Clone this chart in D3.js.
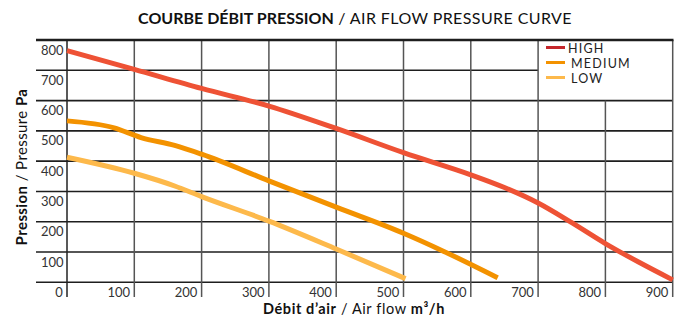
<!DOCTYPE html>
<html lang="fr">
<head>
<meta charset="UTF-8">
<script src="https://d3js.org/d3.v7.min.js"></script>
<style>
  body { margin: 0; background: #fff; }
  svg { font-family: Lato, "DejaVu Sans", sans-serif; }
  .tick { font-size: 13px; fill: #333; }
</style>
</head>
<body>
<svg width="687" height="317"></svg>
<script>
// axis ticks
var xTicks = [0, 100, 200, 300, 400, 500, 600, 700, 800, 900];
var yTicks = [0, 100, 200, 300, 400, 500, 600, 700, 800];

// curves: [air flow m3/h, pressure Pa]
var seriesNames = ["HIGH", "MEDIUM", "LOW"];
var highCurve = [[0, 765], [100, 703], [200, 640], [300, 582], [400, 508], [500, 428],
                 [600, 355], [650, 313], [700, 262], [750, 197], [800, 128], [850, 66], [900, 8]];
var mediumCurve = [[0, 533], [70, 510], [110, 478], [160, 452], [200, 423], [300, 335],
                   [400, 248], [500, 162], [560, 102], [640, 15]];
var lowCurve = [[0, 413], [100, 360], [160, 318], [200, 283], [300, 202], [400, 110], [503, 12]];

var lineColors = ["#ee5235", "#f39200", "#fdb94b"];
var legendColors = ["#c4262b", "#f39200", "#fdb94b"];

var svg = d3.select("svg");

var x = d3.scaleLinear().domain([0, 900]).range([67, 672.7]);
var y = d3.scaleLinear().domain([0, 800]).range([282.3, 40]);

// title
var title = svg.append("text")
    .attr("x", 355).attr("y", 24)
    .attr("text-anchor", "middle")
    .style("font-size", "16px").style("fill", "#111");
title.append("tspan").style("font-weight", "bold").text("COURBE DÉBIT PRESSION");
title.append("tspan").style("letter-spacing", "0.4px").text(" / AIR FLOW PRESSURE CURVE");

// horizontal grid (legend box at top-right has no inner lines)
var grid = svg.append("g");
grid.selectAll("line.h")
    .data(yTicks.filter(d => d != 800))
    .enter().append("line")
    .attr("class", "h")
    .attr("x1", 36)
    .attr("x2", d => d == 700 ? x(700) : x(900))
    .attr("y1", d => y(d)).attr("y2", d => y(d))
    .attr("stroke", "#1e1e1e").attr("stroke-width", 1.6);

// vertical grid
grid.selectAll("line.v")
    .data(xTicks)
    .enter().append("line")
    .attr("class", "v")
    .attr("x1", d => x(d)).attr("x2", d => x(d))
    .attr("y1", d => d == 800 ? y(600) : y(800))
    .attr("y2", 297)
    .attr("stroke", d => (d == 0 ? "#222" : "#555"))
    .attr("stroke-width", 1.5);

// top border
grid.append("line")
    .attr("x1", 36).attr("x2", x(900) + 0.8)
    .attr("y1", y(800)).attr("y2", y(800))
    .attr("stroke", "#1e1e1e").attr("stroke-width", 2.4);

// tick labels sit in the cells, below-left of each line
// (the 0 of the y axis is shared with the x axis one)
svg.selectAll("text.ylab")
    .data(yTicks.filter(d => d > 0))
    .enter().append("text")
    .attr("class", "tick ylab")
    .attr("x", 63.5)
    .attr("y", d => y(d) + 14.5)
    .attr("text-anchor", "end")
    .text(d => d);

svg.selectAll("text.xlab")
    .data(xTicks)
    .enter().append("text")
    .attr("class", "tick xlab")
    .attr("x", d => x(d) - 4.3)
    .attr("y", 296.5)
    .attr("text-anchor", "end")
    .text(d => d);

// axis titles
var xt = svg.append("text")
    .attr("x", 354).attr("y", 314)
    .attr("text-anchor", "middle")
    .style("font-size", "14.5px").style("letter-spacing", "0.6px").style("fill", "#111");
xt.append("tspan").style("font-weight", "bold").text("Débit d’air");
xt.append("tspan").text(" / Air flow ");
xt.append("tspan").style("font-weight", "bold").text("m³/h");

var yt = svg.append("text")
    .attr("transform", "translate(26.5,167) rotate(-90)")
    .attr("text-anchor", "middle")
    .style("font-size", "15px").style("letter-spacing", "0.4px").style("fill", "#111");
yt.append("tspan").style("font-weight", "bold").text("Pression");
yt.append("tspan").text(" / Pressure ");
yt.append("tspan").style("font-weight", "bold").text("Pa");

// curves
var line = d3.line()
    .x(d => x(d[0]))
    .y(d => y(d[1]))
    .curve(d3.curveMonotoneX);

var curves = [highCurve, mediumCurve, lowCurve];
svg.append("g").selectAll("path")
    .data(curves)
    .enter().append("path")
    .attr("d", line)
    .attr("fill", "none")
    .attr("stroke", (d, i) => lineColors[i])
    .attr("stroke-width", 5);

// legend
var legend = svg.append("g").selectAll("g")
    .data(seriesNames)
    .enter().append("g")
    .attr("transform", (d, i) => "translate(546," + (47.5 + i * 15) + ")");
legend.append("line")
    .attr("x1", 0).attr("x2", 19)
    .attr("stroke", (d, i) => legendColors[i])
    .attr("stroke-width", 3);
legend.append("text")
    .attr("x", (d, i) => i == 0 ? 22 : 25)
    .attr("y", 5)
    .style("font-size", "12.5px").style("letter-spacing", "1.2px").style("fill", "#222")
    .text(d => d);
</script>
</body>
</html>
